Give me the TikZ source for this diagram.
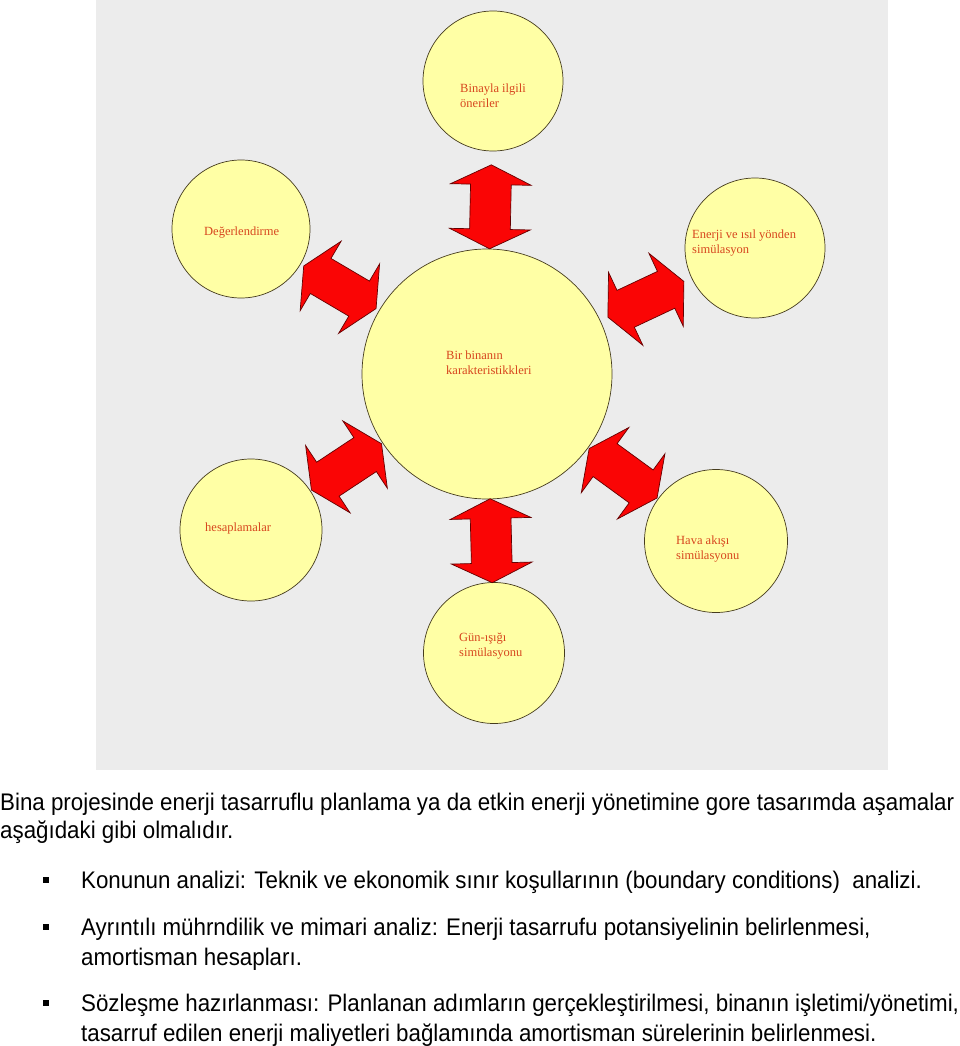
\documentclass[tikz,border=0pt]{standalone}
\usepackage{fontspec}
\setmainfont{Liberation Sans}
\newfontfamily\lblfont{Liberation Serif}
\newfontfamily\bodyfont[FakeStretch=0.93]{Liberation Sans}
\usetikzlibrary{shapes.arrows}
\definecolor{bubblefill}{RGB}{255,255,165}
\definecolor{bubbleline}{RGB}{70,60,30}
\definecolor{lbltext}{RGB}{215,70,30}
\definecolor{arrowred}{RGB}{250,5,5}
\definecolor{arrowline}{RGB}{100,0,0}
\definecolor{photobg}{RGB}{236,236,236}

\begin{document}
\begin{tikzpicture}[x=1pt,y=-1pt,
    bubble/.style={circle,draw=bubbleline,fill=bubblefill,line width=0.7pt,inner sep=0pt},
    lbl/.style={anchor=west,text=lbltext,font=\lblfont\fontsize{12.5}{15}\selectfont,align=left,inner sep=0pt},
    dblarrow/.style={double arrow,draw=arrowline,fill=arrowred,line width=0.7pt,minimum height=84pt,inner xsep=0pt,inner ysep=20pt,double arrow head extend=20pt,double arrow tip angle=128},
    bullet/.style={rectangle,fill=black,minimum size=6pt,inner sep=0pt},
    txt/.style={anchor=base west,inner sep=0pt,font=\bodyfont\fontsize{24}{28}\selectfont}]
    \useasboundingbox(0,0)rectangle(960,1046);
    \fill[photobg](96,0)rectangle(888,770);

    % circles
    \node[bubble,minimum size=250pt](ctr)at(487,374){};
    \node[bubble,minimum size=140pt](top)at(493,81){};
    \node[bubble,minimum size=138pt](deg)at(241,229){};
    \node[bubble,minimum size=140pt](ene)at(755,248){};
    \node[bubble,minimum size=142pt](hes)at(251,530){};
    \node[bubble,minimum size=143pt](hav)at(716,541){};
    \node[bubble,minimum size=141pt](gun)at(494,653){};

    \node[lbl](top-t)at(460,95.5){Binayla ilgili\\öneriler};
    \node[lbl](deg-t)at(204,233){Değerlendirme};
    \node[lbl](ene-t)at(692,243.5){Enerji ve ısıl yönden\\simülasyon};
    \node[lbl](ctr-t)at(446,362.5){Bir binanın\\karakteristikkleri};
    \node[lbl](hes-t)at(205,528){hesaplamalar};
    \node[lbl](hav-t)at(676,549){Hava akışı\\simülasyonu};
    \node[lbl](gun-t)at(459,646){Gün-ışığı\\simülasyonu};

    % arrows
    \path(top)--(ctr)node[dblarrow,pos=0.57,sloped](a-top){};
    \path(deg)--(ctr)node[dblarrow,midway,sloped](a-deg){};
    \path(ene)--(ctr)node[dblarrow,midway,sloped](a-ene){};
    \path(hes)--(ctr)node[dblarrow,midway,sloped](a-hes){};
    \path(hav)--(ctr)node[dblarrow,midway,sloped](a-hav){};
    \path(gun)--(ctr)node[dblarrow,midway,sloped](a-gun){};

    % text below
    \node[txt](t1)at(0,810){Bina projesinde enerji tasarruflu planlama ya da etkin enerji yönetimine gore tasarımda aşamalar};
    \node[txt](t2)at(0,838){aşağıdaki gibi olmalıdır.};
    \node[bullet](b1)at(46,880){};
    \node[txt](t3)at(81,888){Konunun analizi: Teknik ve ekonomik sınır koşullarının (boundary conditions)\ \ analizi.};
    \node[bullet](b2)at(46,927){};
    \node[txt](t4)at(81,935){Ayrıntılı mührndilik ve mimari analiz: Enerji tasarrufu potansiyelinin belirlenmesi,};
    \node[txt](t5)at(81,965){amortisman hesapları.};
    \node[bullet](b3)at(46,1003){};
    \node[txt](t6)at(81,1011){Sözleşme hazırlanması: Planlanan adımların gerçekleştirilmesi, binanın işletimi/yönetimi,};
    \node[txt](t7)at(81,1041){tasarruf edilen enerji maliyetleri bağlamında amortisman sürelerinin belirlenmesi.};
\end{tikzpicture}
\end{document}
